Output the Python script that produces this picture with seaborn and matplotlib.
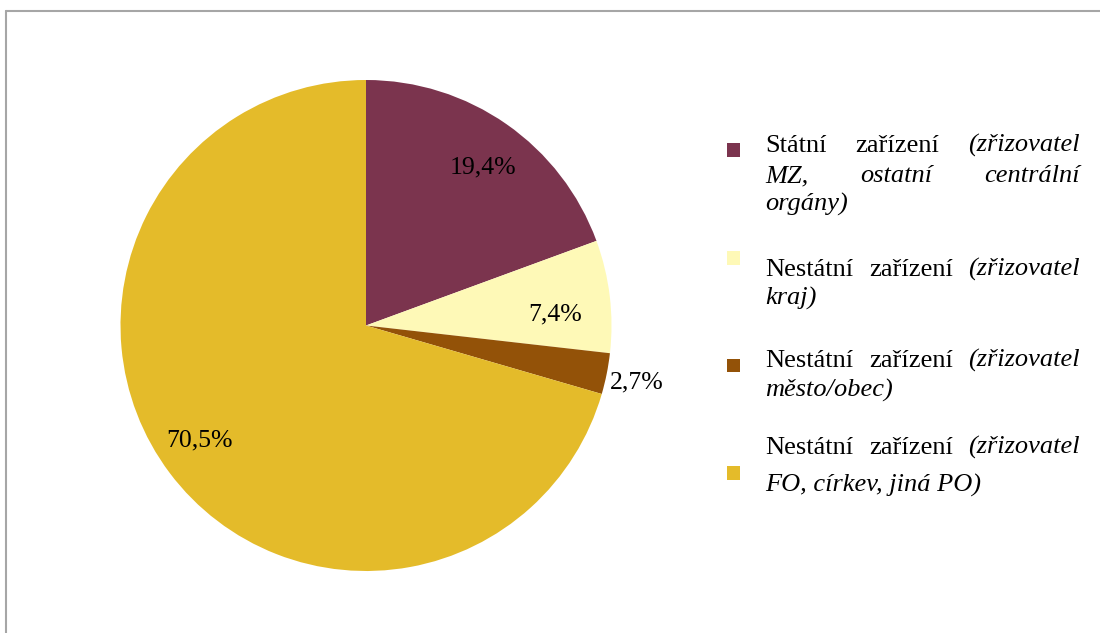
import matplotlib
matplotlib.use("Agg")
import matplotlib.pyplot as plt
import seaborn as sns
import numpy as np
from matplotlib.patches import Rectangle
from matplotlib.lines import Line2D

# ---- data ----
category_main = ["Státní zařízení", "Nestátní zařízení", "Nestátní zařízení", "Nestátní zařízení"]
category_detail = ["(zřizovatel\nMZ, ostatní centrální\norgány)",
                   "(zřizovatel\nkraj)",
                   "(zřizovatel\nměsto/obec)",
                   "(zřizovatel\nFO, církev, jiná PO)"]
shares = [19.4, 7.4, 2.7, 70.5]
colors = ["#7B344E", "#FEF9B7", "#935208", "#E4BB2A"]

sns.set_theme(style="white")
plt.rcParams['font.family'] = ['Liberation Serif', 'DejaVu Serif']

W, H = 1100, 633
FS_LEG = 19
FS_LAB = 18.5
fig = plt.figure(figsize=(W / 100, H / 100), dpi=100)
fig.patch.set_facecolor("white")

# ---- pie ----
cx, cy, R = 366, 325.5, 245.5
ax = fig.add_axes([(cx - R) / W, 1 - (cy + R) / H, 2 * R / W, 2 * R / H])
wedges, _ = ax.pie(shares, colors=colors, startangle=90, counterclock=False,
                   radius=1, wedgeprops=dict(linewidth=0))
ax.set_xlim(-1, 1)
ax.set_ylim(-1, 1)
ax.set_aspect('equal')
ax.axis('off')

# label placement: radial factor and angular offset (deg) from wedge middle
label_r = [0.809, 0.772, 1.125, 0.817]
label_dang = [-1.2, -2.7, -0.1, -2.8]
base_off = 8.5 / R  # baseline below visual centre of digits
for w, v, r, da in zip(wedges, shares, label_r, label_dang):
    ang = np.deg2rad((w.theta1 + w.theta2) / 2 + da)
    ax.text(r * np.cos(ang), r * np.sin(ang) - base_off, f"{v:.1f}".replace('.', ',') + '%',
            ha='center', va='baseline', fontsize=FS_LAB, color='black')

# ---- border ----
fig.add_artist(Line2D([6 / W, 6 / W], [0, 1 - 11 / H], color='#A6A6A6', lw=1.5,
                      transform=fig.transFigure))
fig.add_artist(Line2D([6 / W, 1], [1 - 11 / H, 1 - 11 / H], color='#A6A6A6', lw=1.5,
                      transform=fig.transFigure))

# ---- legend (justified text) ----
renderer = fig.canvas.get_renderer()

def width(s, style):
    t = fig.text(0, 0, s, fontsize=FS_LEG, style=style)
    w = t.get_window_extent(renderer).width
    t.remove()
    return w

x0, x1 = 765, 1080
baselines = [[152, 182, 211], [276, 305], [367, 397], [454, 492]]
sq_top = [143, 251.5, 358.5, 466]
sq_x, sq_size = 726.5, 13.5

for i in range(len(shares)):
    fig.add_artist(Rectangle((sq_x / W, 1 - (sq_top[i] + sq_size) / H), sq_size / W, sq_size / H,
                             facecolor=colors[i], edgecolor='none', transform=fig.transFigure))
    dlines = category_detail[i].split("\n")
    lines = [[(wd, 'normal') for wd in category_main[i].split()] + [(wd, 'italic') for wd in dlines[0].split()]]
    for dl in dlines[1:]:
        lines.append([(wd, 'italic') for wd in dl.split()])
    for j, line in enumerate(lines):
        yb = 1 - baselines[i][j] / H
        last = (j == len(lines) - 1)
        if last:
            fig.text(x0 / W, yb, " ".join(wd for wd, _ in line), fontsize=FS_LEG,
                     style=line[0][1], va='baseline', ha='left', color='black')
        else:
            ws = [width(wd, st) for wd, st in line]
            gap = (x1 - x0 - sum(ws)) / (len(line) - 1)
            x = x0
            for (wd, st), wdt in zip(line, ws):
                fig.text(x / W, yb, wd, fontsize=FS_LEG, style=st, va='baseline', ha='left', color='black')
                x += wdt + gap

fig.savefig("out.png", dpi=100, facecolor="white")
